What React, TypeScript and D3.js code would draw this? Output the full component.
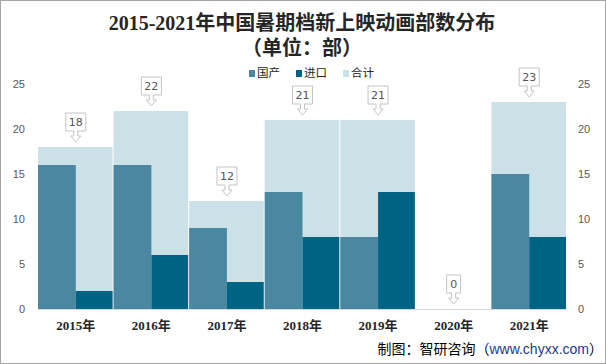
import * as d3 from 'd3';

const years = ['2015年', '2016年', '2017年', '2018年', '2019年', '2020年', '2021年'];
const domestic = [16, 16, 9, 13, 8, 0, 15];
const imported = [2, 6, 3, 8, 13, 0, 8];
const totals = [18, 22, 12, 21, 21, 0, 23];
const yTicks = [0, 5, 10, 15, 20, 25];
const legendItems = [
  { label: '国产', color: '#4a87a1' },
  { label: '进口', color: '#006384' },
  { label: '合计', color: '#cce0e8' },
];

const W = 606;
const H = 364;
const margin = { top: 84, right: 39, bottom: 55, left: 38 };

export default function App() {
  const innerW = W - margin.left - margin.right;
  const innerH = H - margin.top - margin.bottom;

  const x = d3.scaleBand<string>().domain(years).range([0, innerW]).padding(0);
  const y = d3.scaleLinear().domain([0, 25]).range([innerH, 0]);
  const bw = x.bandwidth();

  // callout marker: box with a hollow arrow pointing down at the bar top
  const callout = (cx: number, top: number, label: string) => {
    const boxW = label.length > 1 ? 20 : 14;
    const boxH = 18;
    const tip = top - 5;
    const boxBottom = top - 16;
    const boxTop = boxBottom - boxH;
    const l = cx - boxW / 2;
    const r = cx + boxW / 2;
    const p = d3.path();
    p.moveTo(l, boxTop);
    p.lineTo(r, boxTop);
    p.lineTo(r, boxBottom);
    p.lineTo(cx + 2, boxBottom);
    p.lineTo(cx + 2, boxBottom + 5);
    p.lineTo(cx + 5, boxBottom + 5);
    p.lineTo(cx, tip);
    p.lineTo(cx - 5, boxBottom + 5);
    p.lineTo(cx - 2, boxBottom + 5);
    p.lineTo(cx - 2, boxBottom);
    p.lineTo(l, boxBottom);
    p.closePath();
    return (
      <g key={label + cx}>
        <path d={p.toString()} fill="#fff" stroke="#c4c4c4" strokeWidth={1} />
        <text x={cx} y={boxTop + boxH / 2} dy="0.36em" textAnchor="middle"
          fontSize={11} fill="#555" fontFamily="DejaVu Sans, sans-serif">{label}</text>
      </g>
    );
  };

  return (
    <svg width={W} height={H} style={{ position: 'absolute', left: 0, top: 0, background: '#fff' }}>
      <rect x={0.5} y={0.5} width={W - 1} height={H - 1} fill="#fff" stroke="#a6a6a6" />

      <text x={302} y={30} textAnchor="middle" fontSize={20} fontWeight="bold" fill="#262626"
        fontFamily="'Liberation Serif', 'Noto Sans CJK SC', serif">2015-2021年中国暑期档新上映动画部数分布</text>
      <text x={302} y={55} textAnchor="middle" fontSize={20} fontWeight="bold" fill="#262626"
        fontFamily="'Liberation Serif', 'Noto Sans CJK SC', serif">（单位：部）</text>

      <g fontFamily="'Noto Sans CJK SC', sans-serif" fontSize={11.5} fill="#262626">
        {legendItems.map((d, i) => (
          <g key={d.label} transform={`translate(${249 + i * 47},73)`}>
            <rect x={0} y={-3} width={6} height={7} fill={d.color} />
            <text x={8} y={0} dy="0.36em">{d.label}</text>
          </g>
        ))}
      </g>

      <g transform={`translate(${margin.left},${margin.top})`}>
        {years.map((yr, i) => {
          const x0 = x(yr)!;
          return (
            <g key={yr}>
              <rect x={x0} y={y(totals[i])} width={bw - 1} height={innerH - y(totals[i])} fill="#cce0e8" />
              <rect x={x0} y={y(domestic[i])} width={bw / 2} height={innerH - y(domestic[i])} fill="#4a87a1" />
              <rect x={x0 + bw / 2} y={y(imported[i])} width={bw / 2 - 1} height={innerH - y(imported[i])} fill="#006384" />
            </g>
          );
        })}

        <line x1={0} x2={innerW} y1={innerH + 0.5} y2={innerH + 0.5} stroke="#d9d9d9" />

        {years.map((yr, i) => callout(x(yr)! + bw / 2, y(totals[i]), String(totals[i])))}

        <g fontFamily="'Liberation Sans', sans-serif" fontSize={11} fill="#595959">
          {yTicks.map(t => (
            <g key={t}>
              <text x={-13} y={y(t)} dy="0.35em" textAnchor="end">{t}</text>
              <text x={innerW + 11} y={y(t)} dy="0.35em" textAnchor="start">{t}</text>
            </g>
          ))}
        </g>

        <g fontFamily="'Liberation Serif', 'Noto Sans CJK SC', serif" fontSize={13} fontWeight="bold" fill="#262626">
          {years.map(yr => (
            <text key={yr} x={x(yr)! + bw / 2} y={innerH + 21} textAnchor="middle">{yr}</text>
          ))}
        </g>
      </g>

      <text x={603} y={354} textAnchor="end" fontSize={14} fill="#000"
        fontFamily="'Noto Sans CJK SC', sans-serif">
        制图：智研咨询（<tspan fill="#1f3a8a" fontFamily="'Liberation Sans', sans-serif">www.chyxx.com</tspan>）
      </text>
    </svg>
  );
}
